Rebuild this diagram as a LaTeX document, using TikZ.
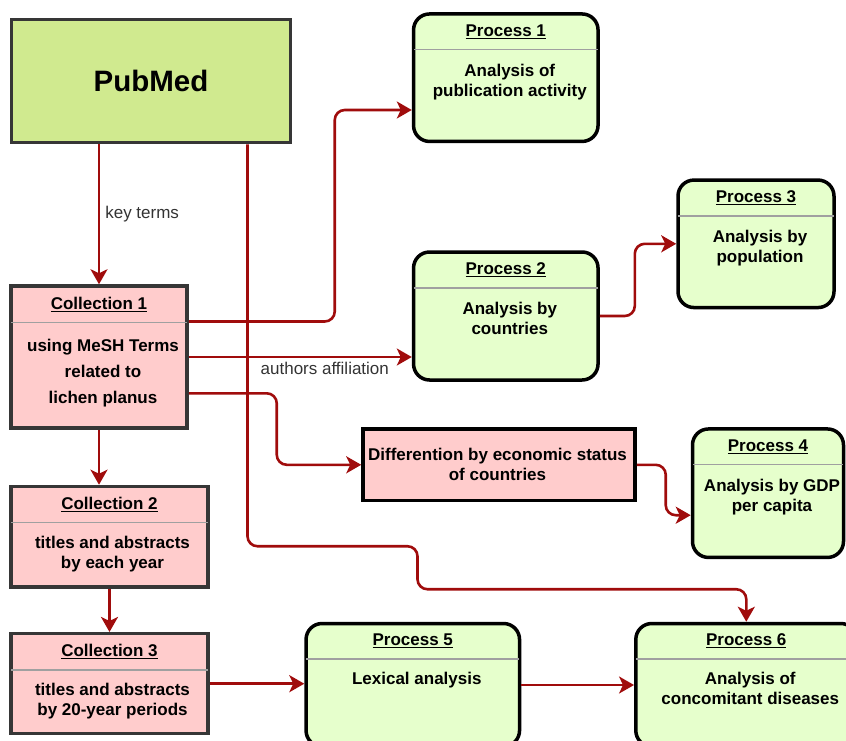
\documentclass[tikz,border=0pt]{standalone}
\usepackage{fontspec}
\setmainfont{Liberation Sans}
\usetikzlibrary{positioning, arrows.meta}

\definecolor{pubgreen}{RGB}{208,234,143}
\definecolor{procgreen}{RGB}{230,255,204}
\definecolor{collpink}{RGB}{255,204,204}
\definecolor{edgegray}{RGB}{54,54,54}
\definecolor{linkred}{RGB}{160,12,12}
\definecolor{dividergray}{RGB}{160,160,160}
\definecolor{labelgray}{RGB}{51,51,51}

\newcommand{\undertitle}[1]{\leavevmode\setbox0\hbox{#1}\rlap{\rule[-2.4pt]{\wd0}{1.1pt}}\box0}

\begin{document}
\begin{tikzpicture}[x=1pt, y=-1pt,
  every node/.style={inner sep=0pt},
  boxsize/.style 2 args={minimum width=#1, minimum height=#2},
  src/.style={draw=edgegray, fill=pubgreen, line width=3.5pt},
  coll/.style={draw=edgegray, fill=collpink, line width=3.5pt},
  diff/.style={draw=black, fill=collpink, line width=3.5pt},
  proc/.style={draw=black, fill=procgreen, line width=3.5pt, rounded corners=16pt},
  head/.style={font=\bfseries\fontsize{17}{20}\selectfont, anchor=base},
  body/.style={font=\bfseries\fontsize{17}{20}\selectfont, align=center, anchor=base},
  divider/.style={draw=dividergray, line width=1.5pt},
  flow/.style={draw=linkred, line width=2.6pt, rounded corners=10pt, -{Stealth[length=15pt, width=17pt, inset=4pt]}},
  lbl/.style={font=\fontsize{17}{20}\selectfont, text=labelgray}]
\path[use as bounding box, clip] (0,0) rectangle (846,740);

% source and collections (body base = last line)
\node[src, boxsize={279pt}{123pt}, font=\bfseries\fontsize{29.5}{34}\selectfont] (PubMed) at (151,81) {PubMed};

\node[coll, boxsize={176pt}{142pt}] (C1) at (99,357) {};
\node[head] (C1head) at ([yshift=-25.5pt]C1.north) {\undertitle{Collection 1}};
\draw[divider] ([xshift=2pt,yshift=-38pt]C1.north west) -- ([xshift=-2pt,yshift=-38pt]C1.north east);
\node[body] (C1body) at ([xshift=4pt,yshift=-119pt]C1.north) {using MeSH Terms\\[6pt]related to\\[6pt]lichen planus};

\node[coll, boxsize={197pt}{100.5pt}] (C2) at (109.5,536.7) {};
\node[head] (C2head) at ([yshift=-24.5pt]C2.north) {\undertitle{Collection 2}};
\draw[divider] ([xshift=2pt,yshift=-38pt]C2.north west) -- ([xshift=-2pt,yshift=-38pt]C2.north east);
\node[body] (C2body) at ([xshift=3pt,yshift=-84pt]C2.north) {titles and abstracts\\by each year};

\node[coll, boxsize={197pt}{100pt}] (C3) at (109.5,683.7) {};
\node[head] (C3head) at ([yshift=-24.5pt]C3.north) {\undertitle{Collection 3}};
\draw[divider] ([xshift=2pt,yshift=-38pt]C3.north west) -- ([xshift=-2pt,yshift=-38pt]C3.north east);
\node[body] (C3body) at ([xshift=3pt,yshift=-84pt]C3.north) {titles and abstracts\\by 20-year periods};

% processes
\node[proc, boxsize={184.5pt}{127.5pt}] (P1) at (505.8,77.7) {};
\node[head] (P1head) at ([yshift=-24.5pt]P1.north) {\undertitle{Process 1}};
\draw[divider] ([xshift=2pt,yshift=-37.5pt]P1.north west) -- ([xshift=-2pt,yshift=-37.5pt]P1.north east);
\node[body] (P1body) at ([xshift=4pt,yshift=-84pt]P1.north) {Analysis of\\publication activity};

\node[proc, boxsize={184.5pt}{128pt}] (P2) at (505.8,316) {};
\node[head] (P2head) at ([yshift=-24.5pt]P2.north) {\undertitle{Process 2}};
\draw[divider] ([xshift=2pt,yshift=-37.5pt]P2.north west) -- ([xshift=-2pt,yshift=-37.5pt]P2.north east);
\node[body] (P2body) at ([xshift=4pt,yshift=-84pt]P2.north) {Analysis by\\countries};

\node[proc, boxsize={156pt}{127.5pt}] (P3) at (756,243.8) {};
\node[head] (P3head) at ([yshift=-24.5pt]P3.north) {\undertitle{Process 3}};
\draw[divider] ([xshift=2pt,yshift=-37.5pt]P3.north west) -- ([xshift=-2pt,yshift=-37.5pt]P3.north east);
\node[body] (P3body) at ([xshift=4pt,yshift=-84pt]P3.north) {Analysis by\\population};

\node[diff, boxsize={272pt}{71.5pt}] (Diff) at (499,464.8) {};
\node[body] (Difftext) at ([xshift=-1.5pt,yshift=-52.7pt]Diff.north) {Differention by economic status\\of countries};

\node[proc, boxsize={151pt}{128.5pt}] (P4) at (768,493.2) {};
\node[head] (P4head) at ([yshift=-24.5pt]P4.north) {\undertitle{Process 4}};
\draw[divider] ([xshift=2pt,yshift=-37.5pt]P4.north west) -- ([xshift=-2pt,yshift=-37.5pt]P4.north east);
\node[body] (P4body) at ([xshift=4pt,yshift=-84pt]P4.north) {Analysis by GDP\\per capita};

\node[proc, boxsize={213.5pt}{123pt}] (P5) at (412.8,685) {};
\node[head] (P5head) at ([yshift=-24pt]P5.north) {\undertitle{Process 5}};
\draw[divider] ([xshift=2pt,yshift=-37pt]P5.north west) -- ([xshift=-2pt,yshift=-37pt]P5.north east);
\node[body] (P5body) at ([xshift=4pt,yshift=-63pt]P5.north) {Lexical analysis};

\node[proc, boxsize={221pt}{123pt}] (P6) at (746.3,685) {};
\node[head] (P6head) at ([yshift=-24pt]P6.north) {\undertitle{Process 6}};
\draw[divider] ([xshift=2pt,yshift=-37pt]P6.north west) -- ([xshift=-2pt,yshift=-37pt]P6.north east);
\node[body] (P6body) at ([xshift=4pt,yshift=-83pt]P6.north) {Analysis of\\concomitant diseases};

% connectors
\draw[flow] (C1.north |- PubMed.south) -- node[lbl, anchor=west, xshift=5pt] (keyterms) {key terms} (C1.north);
\draw[flow] ([xshift=96.5pt]PubMed.south) -- ++(0,402) -- ++(170,0) -- ++(0,43) -| (P6.north);
\draw[flow] ([yshift=35.5pt]C1.east) -- ++(146,0) |- ([yshift=-32.3pt]P1.west);
\draw[flow] (C1.east) -- node[lbl, below=4pt, pos=0.61] (affil) {authors affiliation} (C1.east -| P2.west);
\draw[flow] ([yshift=-36.3pt]C1.east) -- ++(88,0) |- (Diff.west);
\draw[flow] (P2.east) -- ++(35,0) |- (P3.west);
\draw[flow] (Diff.east) -- ++(29,0) |- ([yshift=-22pt]P4.west);
\draw[flow] (C1.south) -- (C1.south |- C2.north);
\draw[flow] (C2.south) -- (C2.south |- C3.north);
\draw[flow] (C3.east) -- (C3.east -| P5.west);
\draw[flow] (P5.east) -- (P6.west);
\end{tikzpicture}
\end{document}
